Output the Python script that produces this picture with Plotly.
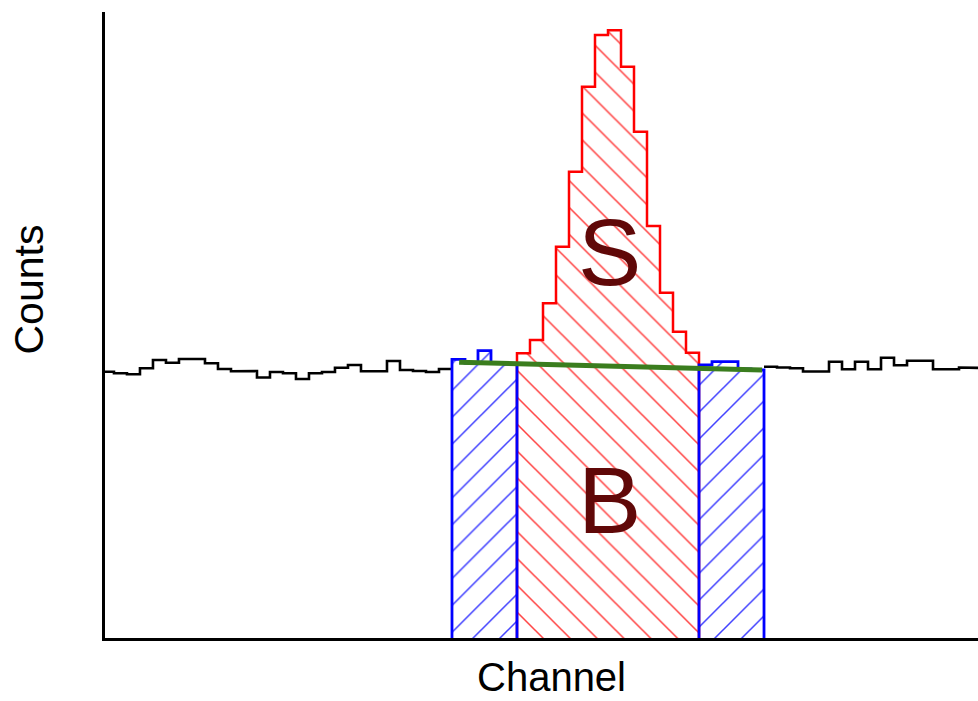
import numpy as np
import plotly.graph_objects as go

# ---- data (channel units, bin width = 1) ----
bg_left_start = 13
bg_left_counts = [266.3, 264.7, 263.7, 269.7, 278, 275.3, 279, 279, 274.7, 269,
                  266.7, 267, 260.5, 266, 264.7, 259, 264.7, 266, 270.3, 273,
                  266.7, 266.7, 277, 268, 267, 266, 269]
side_left_start = 40
side_left_counts = [278.7, 275, 287.3, 275, 274]
signal_start = 45
signal_counts = [284.7, 298, 334.7, 391.3, 466.3, 551.3, 603, 607.7, 571.3,
                 506.3, 412, 345.3, 306.3, 285.3]
side_right_start = 59
side_right_counts = [273, 276.3, 276.3, 269, 268]
bg_right_start = 64
bg_right_counts = [271.3, 270.5, 269.7, 266.5, 266.5, 276.3, 268.8, 276.3,
                   268.8, 280.2, 272.7, 277.2, 277.2, 268.8, 268.8, 270.5, 270]
bg_line_x = [40.55, 63.85]
bg_line_y = [275.7, 268.0]

x_range = [13.31, 80.46]
y_range = [0, 626]


def step_xy(start, counts, close=False):
    counts = np.asarray(counts, dtype=float)
    edges = start + np.arange(len(counts) + 1)
    x = list(np.repeat(edges, 2)[1:-1])
    y = list(np.repeat(counts, 2))
    if close:
        x = [edges[0]] + x + [edges[-1]]
        y = [0.0] + y + [0.0]
    return x, y


fig = go.Figure()

# background histogram (outside windows)
for st, cts in [(bg_left_start, bg_left_counts), (bg_right_start, bg_right_counts)]:
    x, y = step_xy(st, cts)
    fig.add_trace(go.Scatter(x=x, y=y, mode="lines",
                             line=dict(color="black", width=2.6),
                             hoverinfo="skip", showlegend=False))

# signal window
x, y = step_xy(signal_start, signal_counts, close=True)
fig.add_trace(go.Scatter(x=x, y=y, mode="lines", fill="toself",
                         fillcolor="rgba(0,0,0,0)",
                         fillpattern=dict(shape="\\", fgcolor="#ff0000", fgopacity=0.75,
                                          bgcolor="rgba(0,0,0,0)", size=19, solidity=0.08),
                         line=dict(color="#ff0000", width=2.5),
                         hoverinfo="skip", showlegend=False))

# sidebands
for st, cts in [(side_left_start, side_left_counts), (side_right_start, side_right_counts)]:
    x, y = step_xy(st, cts, close=True)
    fig.add_trace(go.Scatter(x=x, y=y, mode="lines", fill="toself",
                             fillcolor="rgba(0,0,0,0)",
                             fillpattern=dict(shape="/", fgcolor="#0000ff", fgopacity=0.75,
                                              bgcolor="rgba(0,0,0,0)", size=19, solidity=0.08),
                             line=dict(color="#0000ff", width=2.8),
                             hoverinfo="skip", showlegend=False))

# background estimate line
fig.add_trace(go.Scatter(x=bg_line_x, y=bg_line_y, mode="lines",
                         line=dict(color="#3a7d1e", width=5),
                         hoverinfo="skip", showlegend=False))

font_fam = "Liberation Sans, Arial, sans-serif"
fig.add_annotation(x=52.1, y=386.5, xref="x", yref="y", text="S", showarrow=False,
                   font=dict(family=font_fam, size=95, color="#600808"))
fig.add_annotation(x=52.1, y=138, xref="x", yref="y", text="B", showarrow=False,
                   font=dict(family=font_fam, size=95, color="#600808"))
fig.add_annotation(x=0.511, y=0, xref="paper", yref="paper", yshift=-39, yanchor="middle",
                   text="Channel", showarrow=False,
                   font=dict(family=font_fam, size=40, color="black"))
fig.add_annotation(x=0, y=0.5567, xref="paper", yref="paper", xshift=-76, xanchor="center",
                   yanchor="middle", textangle=-90,
                   text="Counts", showarrow=False,
                   font=dict(family=font_fam, size=41, color="black"))

axis_common = dict(showline=True, linecolor="black", linewidth=3, showgrid=False,
                   zeroline=False, showticklabels=False, ticks="", fixedrange=True)
fig.update_layout(
    width=978, height=701,
    margin=dict(l=105, r=0, t=12, b=63),
    paper_bgcolor="white", plot_bgcolor="white",
    xaxis=dict(range=x_range, **axis_common),
    yaxis=dict(range=y_range, **axis_common),
    showlegend=False,
)

fig.write_html("out.html")
